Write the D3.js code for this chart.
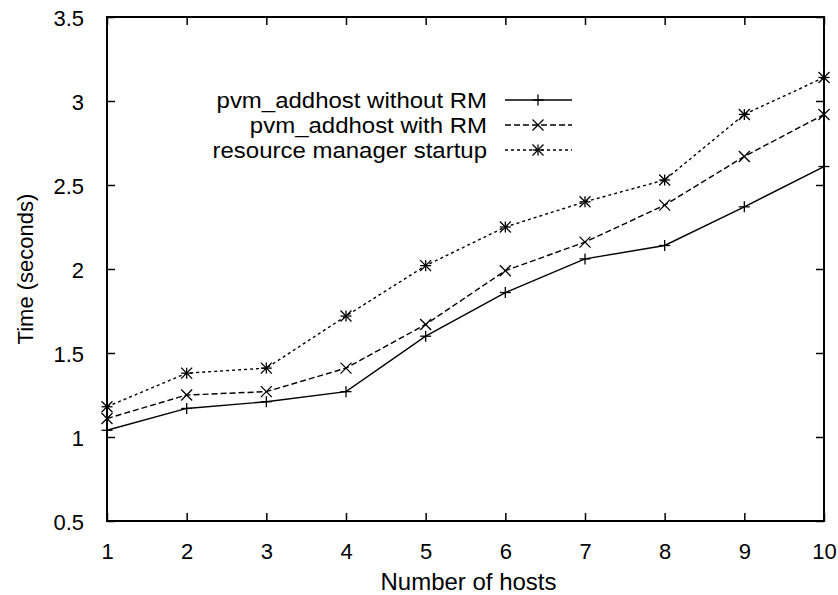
<!DOCTYPE html>
<html lang="en">
<head>
    <meta charset="UTF-8">
    <title>pvm_addhost timing</title>
    <style>
        body { margin: 0; background: #fff; }
        svg { display: block; font-family: "Liberation Sans", Arial, sans-serif; }
    </style>
</head>
<body>
    <div id="chart"></div>
    <script src="https://d3js.org/d3.v7.min.js"></script>
    <script>
        // Data
        const hosts = [1, 2, 3, 4, 5, 6, 7, 8, 9, 10];
        const withoutRM = [1.04, 1.17, 1.21, 1.27, 1.60, 1.86, 2.06, 2.14, 2.37, 2.61];
        const withRM = [1.11, 1.25, 1.27, 1.41, 1.67, 1.99, 2.16, 2.38, 2.67, 2.92];
        const rmStartup = [1.18, 1.38, 1.41, 1.72, 2.02, 2.25, 2.40, 2.53, 2.92, 3.14];
        const yTicks = [0.5, 1, 1.5, 2, 2.5, 3, 3.5];
        const seriesNames = ["pvm_addhost without RM", "pvm_addhost with RM", "resource manager startup"];

        const series = [
            { name: seriesNames[0], values: withoutRM, dash: null, marker: "plus" },
            { name: seriesNames[1], values: withRM, dash: "6,3", marker: "cross" },
            { name: seriesNames[2], values: rmStartup, dash: "3,3", marker: "star" }
        ];

        const W = 838, H = 595;
        const margin = { top: 17, right: 14, bottom: 74, left: 107 };

        const svg = d3.select("#chart").append("svg")
            .attr("width", W)
            .attr("height", H);

        const x = d3.scaleLinear().domain([1, 10]).range([margin.left, W - margin.right]);
        const y = d3.scaleLinear().domain([0.5, 3.5]).range([H - margin.bottom, margin.top]);

        const tickLen = 8;

        // x axis (ticks point inward, mirrored on top)
        svg.append("g")
            .attr("transform", `translate(0,${y(0.5)})`)
            .call(d3.axisBottom(x).tickValues(hosts).tickSizeInner(-tickLen).tickSizeOuter(0).tickPadding(22))
            .call(g => g.select(".domain").remove())
            .call(g => g.selectAll("text").attr("font-size", 22).attr("font-family", "Liberation Sans, Arial, sans-serif").attr("fill", "#000"))
            .call(g => g.selectAll("line").attr("stroke", "#000").attr("stroke-width", 1.5));
        svg.append("g")
            .attr("transform", `translate(0,${y(3.5)})`)
            .call(d3.axisTop(x).tickValues(hosts).tickSizeInner(-tickLen).tickSizeOuter(0).tickFormat(""))
            .call(g => g.select(".domain").remove())
            .call(g => g.selectAll("line").attr("stroke", "#000").attr("stroke-width", 1.5));

        // y axis
        svg.append("g")
            .attr("transform", `translate(${x(1)},0)`)
            .call(d3.axisLeft(y).tickValues(yTicks).tickSizeInner(-tickLen).tickSizeOuter(0).tickPadding(23).tickFormat(d3.format("")))
            .call(g => g.select(".domain").remove())
            .call(g => g.selectAll("text").attr("font-size", 22).attr("font-family", "Liberation Sans, Arial, sans-serif").attr("fill", "#000").attr("dy", "0.38em"))
            .call(g => g.selectAll("line").attr("stroke", "#000").attr("stroke-width", 1.5));
        svg.append("g")
            .attr("transform", `translate(${x(10)},0)`)
            .call(d3.axisRight(y).tickValues(yTicks).tickSizeInner(-tickLen).tickSizeOuter(0).tickFormat(""))
            .call(g => g.select(".domain").remove())
            .call(g => g.selectAll("line").attr("stroke", "#000").attr("stroke-width", 1.5));

        // frame
        svg.append("rect")
            .attr("x", x(1)).attr("y", y(3.5))
            .attr("width", x(10) - x(1)).attr("height", y(0.5) - y(3.5))
            .attr("fill", "none").attr("stroke", "#000").attr("stroke-width", 2);

        // axis titles
        svg.append("text")
            .attr("x", (x(1) + x(10)) / 2 + 3)
            .attr("y", 590)
            .attr("text-anchor", "middle")
            .attr("font-size", 24)
            .text("Number of hosts");
        svg.append("text")
            .attr("transform", `translate(33,${(y(0.5) + y(3.5)) / 2}) rotate(-90)`)
            .attr("text-anchor", "middle")
            .attr("font-size", 22)
            .text("Time (seconds)");

        function drawMarker(g, type, cx, cy) {
            const s = 5.5;
            const m = g.append("g").attr("transform", `translate(${cx},${cy})`)
                .attr("stroke", "#000").attr("stroke-width", 1.3);
            if (type === "plus" || type === "star") {
                m.append("line").attr("x1", -s).attr("x2", s).attr("y1", 0).attr("y2", 0);
                m.append("line").attr("x1", 0).attr("x2", 0).attr("y1", -s).attr("y2", s);
            }
            if (type === "cross" || type === "star") {
                m.append("line").attr("x1", -s).attr("x2", s).attr("y1", -s).attr("y2", s);
                m.append("line").attr("x1", -s).attr("x2", s).attr("y1", s).attr("y2", -s);
            }
        }

        const line = d3.line()
            .x((d, i) => x(hosts[i]))
            .y(d => y(d));

        series.forEach(s => {
            svg.append("path")
                .datum(s.values)
                .attr("d", line)
                .attr("fill", "none")
                .attr("stroke", "#000")
                .attr("stroke-width", 1.4)
                .attr("stroke-dasharray", s.dash);
            const mg = svg.append("g");
            s.values.forEach((v, i) => drawMarker(mg, s.marker, x(hosts[i]), y(v)));
        });

        // legend (text a bit wider than the font, as in the original)
        const legend = svg.append("g");
        const legendY = [100, 125, 150];
        series.forEach((s, i) => {
            legend.append("text")
                .attr("transform", `translate(487,${legendY[i]}) scale(1.09,1)`)
                .attr("dy", "0.36em")
                .attr("text-anchor", "end")
                .attr("font-size", 22)
                .text(s.name);
            legend.append("line")
                .attr("x1", 505).attr("x2", 572)
                .attr("y1", legendY[i]).attr("y2", legendY[i])
                .attr("stroke", "#000")
                .attr("stroke-width", 1.4)
                .attr("stroke-dasharray", s.dash);
            drawMarker(legend, s.marker, 538, legendY[i]);
        });
    </script>
</body>
</html>
